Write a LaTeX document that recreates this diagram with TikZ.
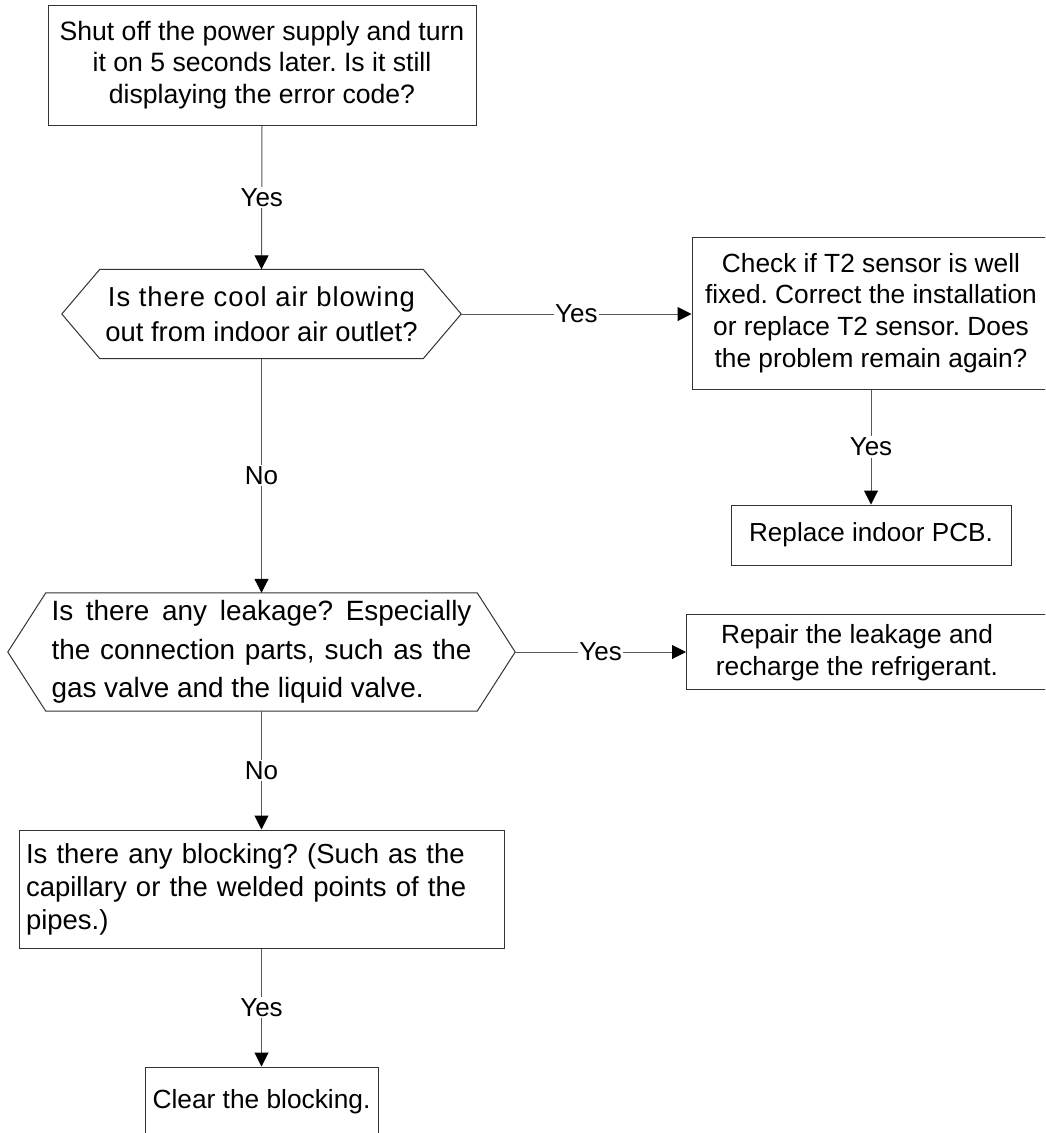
\documentclass[tikz,border=0pt]{standalone}
\usepackage{fontspec}
\setmainfont{Liberation Sans}
\usetikzlibrary{arrows.meta}
\newcommand\fsz[2]{\fontsize{#1pt}{#2pt}\selectfont\frenchspacing}
\tikzset{
  box/.style={draw=black!80, line width=1pt, rectangle, inner sep=0pt},
  hexline/.style={draw=black!80, line width=1pt},
  conn/.style={draw=black!65, line width=1pt, -{Triangle[length=14pt,width=14pt,color=black]}},
  lab/.style={fill=white, inner sep=1.5pt, font=\fsz{26}{30}},
}
\begin{document}
\begin{tikzpicture}[x=1pt,y=-1pt]
\useasboundingbox[fill=white] (0,0) rectangle (1045,1133);
\begin{scope}
\clip (0,0) rectangle (1045,1133);
% boxes
\node[box, minimum width=428pt, minimum height=120pt, align=center, font=\fsz{26.6}{31.7}] (b1) at (262,65)
  {Shut off the power supply and turn\\it on 5 seconds later. Is it still\\displaying the error code?};

\node[minimum width=399pt, minimum height=89pt, inner sep=0pt, align=center, font=\fsz{27.4}{35}] (h1) at (261.5,314)
  {{\addfontfeature{LetterSpace=3.5}Is there cool air blowing}\\out from indoor air outlet?};
\draw[hexline] (h1.west) -- ([xshift=38pt]h1.north west) -- ([xshift=-38pt]h1.north east) -- (h1.east)
  -- ([xshift=-38pt]h1.south east) -- ([xshift=38pt]h1.south west) -- cycle;

\node[box, minimum width=358pt, minimum height=152pt, align=center, font=\fsz{26.3}{31.7}] (b2) at (871,313)
  {Check if T2 sensor is well\\fixed. Correct the installation\\or replace T2 sensor. Does\\the problem remain again?};

\node[box, minimum width=280pt, minimum height=60pt, font=\fsz{26.1}{30}] (b3) at (871,535) {Replace indoor PCB.};

\node[minimum width=507pt, minimum height=118pt, inner sep=0pt, align=left, font=\fsz{27.9}{38.5}] (h2) at (261.5,652)
  {\makebox[420pt][s]{Is there any leakage? Especially}\\\makebox[420pt][s]{the connection parts, such as the}\\\makebox[420pt][l]{gas valve and the liquid valve.}};
\draw[hexline] (h2.west) -- ([xshift=38pt]h2.north west) -- ([xshift=-38pt]h2.north east) -- (h2.east)
  -- ([xshift=-38pt]h2.south east) -- ([xshift=38pt]h2.south west) -- cycle;

\node[box, minimum width=380pt, minimum height=75pt, anchor=west] (b4) at (686,652) {};
\node[align=center, inner sep=0pt, font=\fsz{26.3}{32}] (b4t) at (857,653) {Repair the leakage and\\recharge the refrigerant.};

\node[box, minimum width=485pt, minimum height=118pt, inner xsep=7pt, text width=471pt, align=left, font=\fsz{27.5}{33}] (b5) at (261.5,889)
  {Is there any blocking? (Such as the\\capillary or the welded points of the\\pipes.)};

\node[box, minimum width=233pt, minimum height=70pt, font=\fsz{26.3}{30}] (b6) at (261.5,1102) {Clear the blocking.};

% connectors
\draw[conn] (b1.south) -- node[lab] (l1) {Yes} (h1.north);
\draw[conn] (h1.east) -- node[lab] (l2) {Yes} (b2.west |- h1.east);
\draw[conn] (b2.south) -- node[lab] (l3) {Yes} (b3.north);
\draw[conn] (h1.south) -- node[lab] (l4) {No} (h2.north);
\draw[conn] (h2.east) -- node[lab] (l5) {Yes} (b4.west);
\draw[conn] (h2.south) -- node[lab] (l6) {No} (b5.north);
\draw[conn] (b5.south) -- node[lab] (l7) {Yes} (b6.north);
\end{scope}
\end{tikzpicture}
\end{document}
